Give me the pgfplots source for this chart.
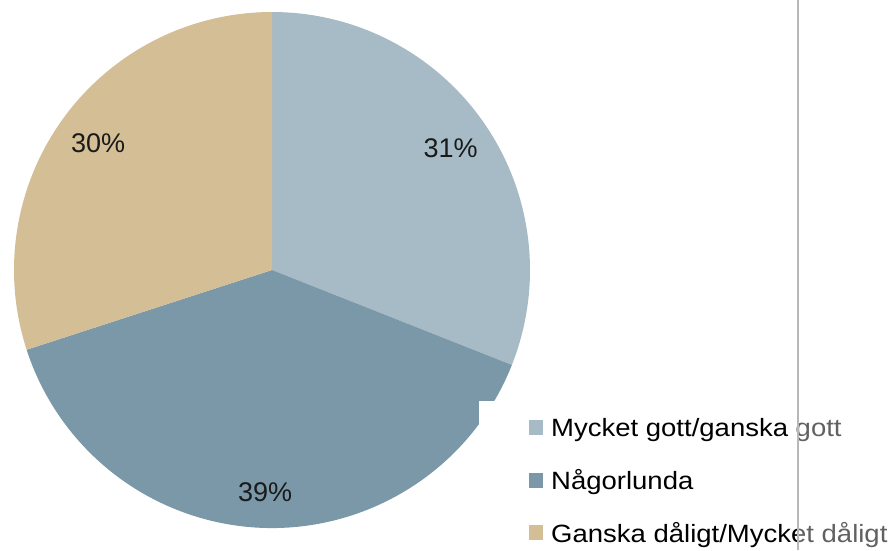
\documentclass[border=0pt]{standalone}
\usepackage{fontspec}
\setmainfont{Liberation Sans}
\usepackage{pgfplots}
\usepackage{pgfplotstable}
\pgfplotsset{compat=1.18}
\usetikzlibrary{calc}
\definecolor{cA}{HTML}{A7BBC7}
\definecolor{cB}{HTML}{7B98A8}
\definecolor{cC}{HTML}{D3BE95}
\definecolor{lbl}{HTML}{1A1A1A}

\pgfplotstableread{
label value
A 31
B 39
C 30
}\piedata
\pgfplotstablegetelem{0}{value}\of\piedata \edef\vA{\pgfplotsretval}%
\pgfplotstablegetelem{1}{value}\of\piedata \edef\vB{\pgfplotsretval}%
\pgfplotstablegetelem{2}{value}\of\piedata \edef\vC{\pgfplotsretval}%
\pgfmathsetmacro\aS{90}%
\pgfmathsetmacro\aA{90-3.6*\vA}%
\pgfmathsetmacro\aB{\aA-3.6*\vB}%
\pgfmathsetmacro\aC{\aB-3.6*\vC}%
\pgfmathsetmacro\mA{(\aS+\aA)/2}%
\pgfmathsetmacro\mB{(\aA+\aB)/2}%
\pgfmathsetmacro\mC{(\aB+\aC)/2}%

\newcommand\legtext[1]{\fontsize{25}{28}\selectfont\scalebox{1.1}[1]{#1}}

\begin{document}%
\begin{tikzpicture}
\path[use as bounding box] (0,0) rectangle (896pt,550pt);
\begin{axis}[hide axis, scale only axis, width=896pt, height=550pt,
  xmin=0, xmax=896, ymin=0, ymax=550, clip=false, at={(0,0)}, anchor=origin]
\coordinate (C) at (axis cs:272,280);
\fill[cA] (C) -- ($(C)+(\aS:258pt)$) arc[start angle=\aS, end angle=\aA, radius=258pt] -- cycle;
\fill[cB] (C) -- ($(C)+(\aA:258pt)$) arc[start angle=\aA, end angle=\aB, radius=258pt] -- cycle;
\fill[cC] (C) -- ($(C)+(\aB:258pt)$) arc[start angle=\aB, end angle=\aC, radius=258pt] -- cycle;
\node[font=\fontsize{27}{30}\selectfont, text=lbl, inner sep=0] at ($(C)+(\mA:216pt)$) {\vA\%};
\node[font=\fontsize{27}{30}\selectfont, text=lbl, inner sep=0] at ($(C)+(\mB:222pt)$) {\vB\%};
\node[font=\fontsize{27}{30}\selectfont, text=lbl, inner sep=0] at ($(C)+(\mC:215pt)$) {\vC\%};
\end{axis}
\begin{scope}[x=1pt, y=1pt]
\fill[white] (479,0) rectangle (797,149);
\fill[cA] (529,115) rectangle (543,130);
\fill[cB] (529,62) rectangle (543,77);
\fill[cC] (529,10) rectangle (543,25);
\begin{scope}
\clip (0,0) rectangle (797.5,550);
\node[anchor=base west, inner sep=0, text=black] at (551,114) {\legtext{Mycket gott/ganska gott}};
\node[anchor=base west, inner sep=0, text=black] at (551,61) {\legtext{Någorlunda}};
\node[anchor=base west, inner sep=0, text=black] at (551,8) {\legtext{Ganska dåligt/Mycket dåligt}};
\end{scope}
\begin{scope}
\clip (798.5,0) rectangle (896,550);
\node[anchor=base west, inner sep=0, text=black!62] at (551,114) {\legtext{Mycket gott/ganska gott}};
\node[anchor=base west, inner sep=0, text=black!62] at (551,8) {\legtext{Ganska dåligt/Mycket dåligt}};
\end{scope}
\draw[color=black!28, line width=1.2pt] (798,0) -- (798,550);
\end{scope}
\end{tikzpicture}%
\end{document}
